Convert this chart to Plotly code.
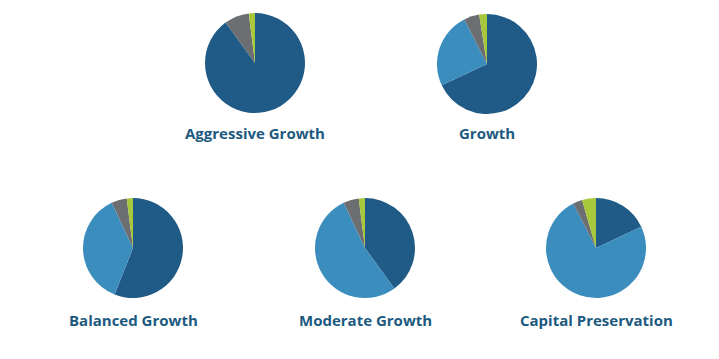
import plotly.graph_objects as go

portfolios = ["Aggressive Growth", "Growth", "Balanced Growth", "Moderate Growth", "Capital Preservation"]
asset_classes = ["Equity", "Fixed Income", "Alternatives", "Cash"]
aggressive_growth = [90, 0, 8, 2]
growth = [68, 24.5, 5, 2.5]
balanced_growth = [56, 37, 5, 2]
moderate_growth = [40, 53, 5, 2]
capital_preservation = [18, 74.5, 3, 4.5]
series = [aggressive_growth, growth, balanced_growth, moderate_growth, capital_preservation]

colors = ["#205a86", "#3a8dbd", "#6c6e72", "#a6c83a"]
W, H = 719, 359
OFF = 8  # page body margin offset
centers = [(255 - OFF, 63 - OFF), (487 - OFF, 64 - OFF), (133 - OFF, 248 - OFF),
           (365 - OFF, 248 - OFF), (596 - OFF, 248 - OFF)]
R = 50
label_y = [133 - OFF, 133 - OFF, 320 - OFF, 320 - OFF, 320 - OFF]

fig = go.Figure()
for name, vals, (cx, cy), ly in zip(portfolios, series, centers, label_y):
    fig.add_trace(go.Pie(
        labels=asset_classes, values=vals, name=name,
        sort=False, direction="clockwise", rotation=0,
        marker=dict(colors=colors, line=dict(width=0)),
        textinfo="none", hoverinfo="label+percent",
        domain=dict(x=[(cx - R) / W, (cx + R) / W], y=[1 - (cy + R) / H, 1 - (cy - R) / H]),
        showlegend=False,
    ))
    fig.add_annotation(x=cx / W, y=1 - ly / H, xref="paper", yref="paper",
                       text="<b>%s</b>" % name, showarrow=False,
                       font=dict(family="Open Sans", size=15, color="#1d5a80"),
                       xanchor="center", yanchor="middle")

fig.update_layout(width=W, height=H, margin=dict(l=0, r=0, t=0, b=0),
                  paper_bgcolor="white", plot_bgcolor="white")
fig.write_html("out.html")
